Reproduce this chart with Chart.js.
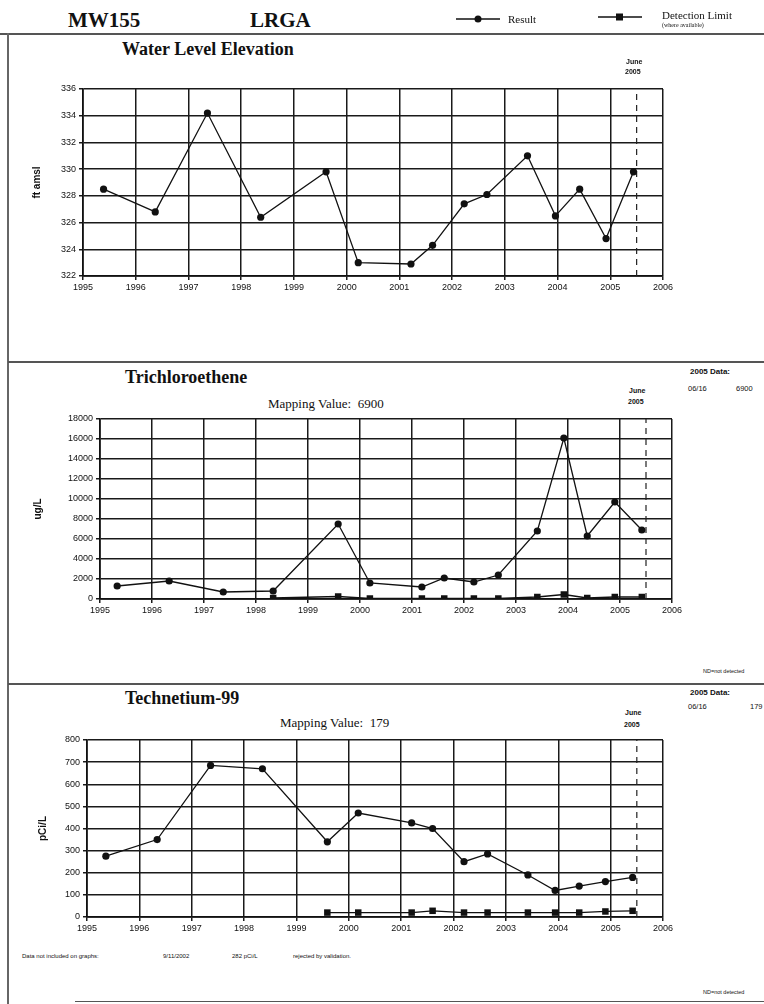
<!DOCTYPE html>
<html>
<head>
<meta charset="utf-8">
<script src="https://cdn.jsdelivr.net/npm/chart.js@4"></script>
<style>
  body { margin: 0; background: #fff; }
  #page { position: relative; width: 764px; height: 1004px; overflow: hidden; background: #fff; color: #111; }
  .t { position: absolute; white-space: nowrap; line-height: 1; }
  .serif { font-family: "Liberation Serif", "DejaVu Serif", serif; }
  .sans { font-family: "Liberation Sans", Arial, sans-serif; }
  .hr { position: absolute; height: 2px; background: #555; }
  .vr { position: absolute; width: 2px; background: #666; }
  canvas { position: absolute; }
</style>
</head>
<body>
<div id="page">
  <!-- header -->
  <div class="t serif" style="left:68px;top:10px;font-size:21px;font-weight:bold;">MW155</div>
  <div class="t serif" style="left:250px;top:10px;font-size:21px;font-weight:bold;">LRGA</div>
  <canvas id="legend" width="320" height="30" style="left:444px;top:3px;"></canvas>
  <div class="t serif" style="left:508px;top:14px;font-size:11px;">Result</div>
  <div class="t serif" style="left:662px;top:10px;font-size:11px;">Detection Limit</div>
  <div class="t serif" style="left:662px;top:22px;font-size:6px;">(where available)</div>

  <div class="hr" style="left:0;top:33px;width:764px;"></div>
  <div class="vr" style="left:7px;top:33px;height:971px;"></div>
  <div class="hr" style="left:8px;top:361px;width:756px;"></div>
  <div class="hr" style="left:8px;top:683px;width:756px;"></div>
  <div class="hr" style="left:75px;top:1001px;width:689px;height:1px;"></div>

  <!-- section 1 -->
  <div class="t serif" style="left:122px;top:40px;font-size:18px;font-weight:bold;">Water Level Elevation</div>
  <div class="t sans" style="left:626px;top:58px;font-size:7px;font-weight:bold;">June</div>
  <div class="t sans" style="left:625px;top:68px;font-size:7px;font-weight:bold;">2005</div>
  <canvas id="chart1" width="685" height="225"></canvas>

  <!-- section 2 -->
  <div class="t serif" style="left:125px;top:368px;font-size:18px;font-weight:bold;">Trichloroethene</div>
  <div class="t serif" style="left:268px;top:397px;font-size:13px;">Mapping Value:&nbsp; 6900</div>
  <div class="t sans" style="left:629px;top:387px;font-size:7px;font-weight:bold;">June</div>
  <div class="t sans" style="left:628px;top:398px;font-size:7px;font-weight:bold;">2005</div>
  <div class="t sans" style="left:690px;top:368px;font-size:8px;font-weight:bold;">2005 Data:</div>
  <div class="t sans" style="left:688px;top:385px;font-size:7.5px;">06/16</div>
  <div class="t sans" style="left:736px;top:385px;font-size:7.5px;">6900</div>
  <div class="t sans" style="left:703px;top:669px;font-size:5.5px;">ND=not detected</div>
  <canvas id="chart2" width="685" height="225"></canvas>

  <!-- section 3 -->
  <div class="t serif" style="left:125px;top:689px;font-size:18px;font-weight:bold;">Technetium-99</div>
  <div class="t serif" style="left:280px;top:716px;font-size:13px;">Mapping Value:&nbsp; 179</div>
  <div class="t sans" style="left:625px;top:709px;font-size:7px;font-weight:bold;">June</div>
  <div class="t sans" style="left:624px;top:721px;font-size:7px;font-weight:bold;">2005</div>
  <div class="t sans" style="left:690px;top:689px;font-size:8px;font-weight:bold;">2005 Data:</div>
  <div class="t sans" style="left:688px;top:703px;font-size:7.5px;">06/16</div>
  <div class="t sans" style="left:750px;top:703px;font-size:7.5px;">179</div>
  <canvas id="chart3" width="685" height="225"></canvas>
  <div class="t sans" style="left:22px;top:953px;font-size:6px;">Data not included on graphs:</div>
  <div class="t sans" style="left:163px;top:953px;font-size:6px;">9/11/2002</div>
  <div class="t sans" style="left:232px;top:953px;font-size:6px;">282 pCi/L</div>
  <div class="t sans" style="left:293px;top:953px;font-size:6px;">rejected by validation.</div>
  <div class="t sans" style="left:703px;top:990px;font-size:5.5px;">ND=not detected</div>
</div>

<script>
// Values

// x axis (decimal years)
const yearMin = 1995;
const yearMax = 2006;
const juneMark = 2005.5;

// Water level elevation (ft amsl)
const waterDates = [1995.39, 1996.37, 1997.36, 1998.37, 1999.61, 2000.22, 2001.22, 2001.63, 2002.23, 2002.66, 2003.43, 2003.96, 2004.42, 2004.92, 2005.44];
const waterLevels = [328.5, 326.8, 334.2, 326.4, 329.8, 323.0, 322.9, 324.3, 327.4, 328.1, 331.0, 326.5, 328.5, 324.8, 329.8];
const waterTicks = [322, 336, 2];

// Trichloroethene (ug/L)
const tceDates = [1995.33, 1996.33, 1997.37, 1998.33, 1999.58, 2000.19, 2001.19, 2001.62, 2002.19, 2002.66, 2003.41, 2003.92, 2004.37, 2004.9, 2005.42];
const tceResults = [1300, 1800, 700, 800, 7500, 1600, 1200, 2100, 1700, 2400, 6800, 16100, 6300, 9700, 6900];
const tceDetectDates = [1998.33, 1999.58, 2000.19, 2001.19, 2001.62, 2002.19, 2002.66, 2003.41, 2003.92, 2004.37, 2004.9, 2005.42];
const tceDetectLimits = [100, 250, 50, 50, 50, 50, 50, 200, 450, 100, 200, 200];
const tceTicks = [0, 18000, 2000];

// Technetium-99 (pCi/L)
const tcDates = [1995.36, 1996.34, 1997.36, 1998.35, 1999.59, 2000.18, 2001.2, 2001.6, 2002.2, 2002.65, 2003.42, 2003.94, 2004.4, 2004.9, 2005.42];
const tcResults = [275, 350, 685, 670, 340, 470, 425, 400, 250, 285, 190, 120, 140, 160, 179];
const tcDetectDates = [1999.59, 2000.18, 2001.2, 2001.6, 2002.2, 2002.65, 2003.42, 2003.94, 2004.4, 2004.9, 2005.42];
const tcDetectLimits = [20, 20, 20, 28, 20, 20, 20, 20, 20, 25, 28];
const tcTicks = [0, 800, 100];

const ink = '#111';
const tickFont = { family: '"Liberation Sans", Arial, sans-serif', size: 9 };

function toPoints(xs, ys) {
    return xs.map((x, i) => ({ x: x, y: ys[i] }));
}

// Position a canvas on the page
function placeCanvas(id, left, top) {
    const el = document.getElementById(id);
    el.style.left = left + 'px';
    el.style.top = top + 'px';
    return el;
}

// Axis sizes are fixed so the plot area lands where it does in the scan
function buildChart(id, box, ticks, yTitle, titlePad, series) {
    const canvas = placeCanvas(id, box.left, box.top);
    const datasets = [];

    series.forEach(s => {
        datasets.push({
            data: s.points,
            borderColor: ink,
            backgroundColor: ink,
            borderWidth: 1.3,
            pointStyle: s.style,
            pointRadius: s.style === 'rect' ? 4.6 : 3.6,
            pointBorderWidth: 0,
            tension: 0
        });
    });

    // dashed June 2005 marker
    datasets.push({
        data: [{ x: juneMark, y: ticks[0] }, { x: juneMark, y: ticks[1] }],
        borderColor: '#222',
        borderWidth: 1.2,
        borderDash: [6, 5],
        pointRadius: 0
    });

    return new Chart(canvas, {
        type: 'line',
        data: { datasets: datasets },
        options: {
            responsive: false,
            animation: false,
            events: [],
            layout: { padding: { top: box.padTop, right: box.padRight, left: 0, bottom: 0 } },
            plugins: { legend: { display: false }, tooltip: { enabled: false } },
            scales: {
                x: {
                    type: 'linear',
                    min: yearMin,
                    max: yearMax,
                    afterFit: scale => { scale.height = box.xHeight; },
                    afterBuildTicks: scale => {
                        scale.ticks = [];
                        for (let y = yearMin; y <= yearMax; y++) scale.ticks.push({ value: y });
                    },
                    ticks: { color: ink, font: tickFont, padding: 2, maxRotation: 0, autoSkip: false, callback: v => String(v) },
                    grid: { color: '#1a1a1a', lineWidth: 1.5, tickLength: 4 },
                    border: { color: ink, width: 1.7 }
                },
                y: {
                    min: ticks[0],
                    max: ticks[1],
                    afterFit: scale => { scale.width = box.yWidth; },
                    ticks: { stepSize: ticks[2], color: ink, font: tickFont, padding: 3, callback: v => String(v) },
                    grid: { color: '#1a1a1a', lineWidth: 1.5, tickLength: 4 },
                    border: { color: ink, width: 1.7 },
                    title: {
                        display: true,
                        text: yTitle,
                        color: ink,
                        padding: { top: titlePad, bottom: 0 },
                        font: { family: '"Liberation Sans", Arial, sans-serif', size: 10, weight: 'bold' }
                    }
                }
            }
        }
    });
}

buildChart('chart1',
    { left: 20, top: 80, padTop: 9, padRight: 42, yWidth: 63, xHeight: 29 },
    waterTicks, 'ft amsl', 11,
    [{ points: toPoints(waterDates, waterLevels), style: 'circle' }]);

buildChart('chart2',
    { left: 20, top: 405, padTop: 14, padRight: 33, yWidth: 80, xHeight: 31 },
    tceTicks, 'ug/L', 12,
    [{ points: toPoints(tceDates, tceResults), style: 'circle' },
     { points: toPoints(tceDetectDates, tceDetectLimits), style: 'rect' }]);

buildChart('chart3',
    { left: 20, top: 726, padTop: 14, padRight: 42, yWidth: 67, xHeight: 34 },
    tcTicks, 'pCi/L', 17,
    [{ points: toPoints(tcDates, tcResults), style: 'circle' },
     { points: toPoints(tcDetectDates, tcDetectLimits), style: 'rect' }]);

// legend symbols in the header
(function drawLegend() {
    const ctx = document.getElementById('legend').getContext('2d');
    ctx.strokeStyle = ink;
    ctx.fillStyle = ink;
    ctx.lineWidth = 1.5;
    ctx.beginPath(); ctx.moveTo(12, 16); ctx.lineTo(56, 16); ctx.stroke();
    ctx.beginPath(); ctx.arc(34, 16, 3.5, 0, Math.PI * 2); ctx.fill();
    ctx.beginPath(); ctx.moveTo(154, 14); ctx.lineTo(198, 14); ctx.stroke();
    ctx.fillRect(172, 10.5, 7, 7);
})();
</script>
</body>
</html>
